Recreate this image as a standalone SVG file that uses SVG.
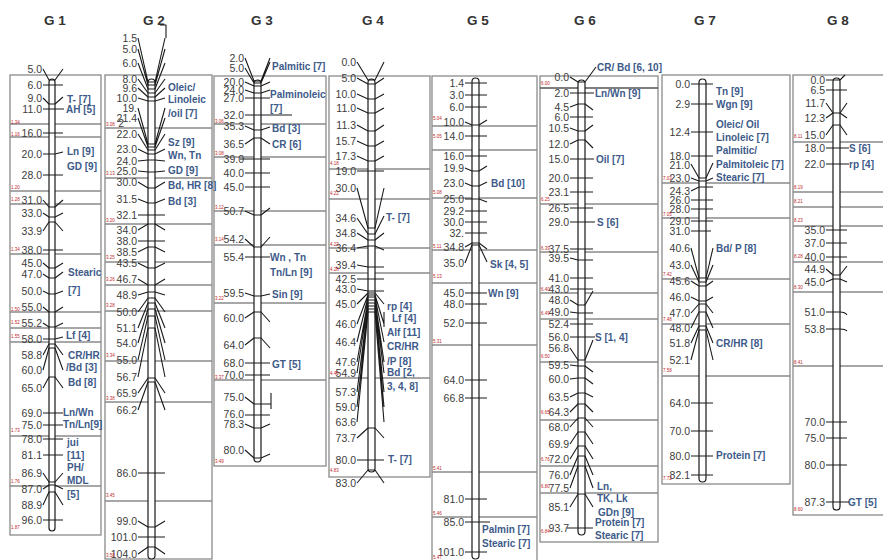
<svg xmlns="http://www.w3.org/2000/svg" width="883" height="560" viewBox="0 0 883 560">
<style>
.box{fill:none;stroke:#8a8a8a;stroke-width:1.3}
.bar{fill:#fff;stroke:#1a1a1a;stroke-width:1.2}
.mk{fill:none;stroke:#1a1a1a;stroke-width:1.1;stroke-linejoin:round}
.n{font-family:"Liberation Sans",Arial,sans-serif;font-size:10.5px;fill:#3c3c3c;text-anchor:end}
.t{font-family:"Liberation Sans",Arial,sans-serif;font-size:10px;font-weight:bold;fill:#3d5a8a}
.r{font-family:"Liberation Sans",Arial,sans-serif;font-size:4.5px;fill:#c0282d}
.h{font-family:"Liberation Sans",Arial,sans-serif;font-size:13.5px;font-weight:bold;fill:#333;text-anchor:middle}
</style>
<rect width="883" height="560" fill="#fff"/>
<g id="titles">
<text class="h" x="55" y="25">G 1</text>
<text class="h" x="154" y="25">G 2</text>
<text class="h" x="262" y="25">G 3</text>
<text class="h" x="373" y="25">G 4</text>
<text class="h" x="478" y="25">G 5</text>
<text class="h" x="585" y="25">G 6</text>
<text class="h" x="705" y="25">G 7</text>
<text class="h" x="838" y="25">G 8</text>
</g>

<g id="G1">
<rect class="box" x="10" y="75" width="91" height="460"/>
<path class="box" d="M10,124H101M10,137H101M10,191H101M10,204H101M10,254H101M10,312H101M10,328H101M10,342H101M10,436H101M10,486H101"/>
<rect class="bar" x="49" y="79" width="6" height="452" rx="3"/>
<g transform="translate(0,3.7)">
<text class="n" x="42" y="69">5.0</text><text class="n" x="42" y="85">6.0</text><text class="n" x="42" y="98">9.0</text><text class="n" x="42" y="109">11.0</text><text class="n" x="42" y="133">16.0</text><text class="n" x="42" y="154">20.0</text><text class="n" x="42" y="175">28.0</text><text class="n" x="42" y="200">31.0</text><text class="n" x="42" y="213">33.0</text><text class="n" x="42" y="231">33.9</text><text class="n" x="42" y="250">38.0</text><text class="n" x="42" y="263">45.0</text><text class="n" x="42" y="274">47.0</text><text class="n" x="42" y="291">50.0</text><text class="n" x="42" y="307">55.0</text><text class="n" x="42" y="323">55.2</text><text class="n" x="42" y="339">58.0</text><text class="n" x="42" y="355">58.8</text><text class="n" x="42" y="370">60.0</text><text class="n" x="42" y="388">65.0</text><text class="n" x="42" y="413">69.0</text><text class="n" x="42" y="425">75.0</text><text class="n" x="42" y="439">78.0</text><text class="n" x="42" y="455">81.1</text><text class="n" x="42" y="473">86.9</text><text class="n" x="42" y="489">87.0</text><text class="n" x="42" y="505">88.9</text><text class="n" x="42" y="520">96.0</text>
<text class="t" x="67" y="99">T- [7]</text><text class="t" x="66" y="109">AH [5]</text><text class="t" x="67" y="151">Ln [9]</text><text class="t" x="67" y="166">GD [9]</text><text class="t" x="68" y="272">Stearic</text><text class="t" x="68" y="290">[7]</text><text class="t" x="66" y="335">Lf [4]</text><text class="t" x="68" y="355">CR/HR</text><text class="t" x="66" y="367">/Bd [3]</text><text class="t" x="68" y="382">Bd [8]</text><text class="t" x="63" y="412">Ln/Wn</text><text class="t" x="63" y="424">Tn/Ln[9]</text><text class="t" x="67" y="442">jui</text><text class="t" x="67" y="455">[11]</text><text class="t" x="67" y="467">PH/</text><text class="t" x="67" y="480">MDL</text><text class="t" x="67" y="494">[5]</text>
</g>
<g class="r"><text x="11" y="124">1.34</text><text x="11" y="136">1.16</text><text x="11" y="189">1.20</text><text x="11" y="201">1.28</text><text x="11" y="251">1.34</text><text x="11" y="311">1.50</text><text x="11" y="324">1.52</text><text x="11" y="338">1.55</text><text x="11" y="432">1.73</text><text x="11" y="483">1.76</text><text x="11" y="529">1.87</text></g>
</g>

<g id="G2">
<rect class="box" x="105" y="75" width="107" height="484"/>
<path class="box" d="M105,128H212M105,178H212M105,224H212M105,262H212M105,285H212M105,311H212M105,361H212M105,402H212M105,501H212"/>
<rect class="bar" x="148" y="79" width="7" height="480" rx="3.5"/>
<g transform="translate(0,3.7)">
<text class="n" x="137" y="38">1.5</text><text class="n" x="137" y="49">5.0</text><text class="n" x="137" y="63">6.0</text><text class="n" x="137" y="79">8.0</text><text class="n" x="137" y="88">9.6</text><text class="n" x="137" y="98">10.0</text><text class="n" x="137" y="108">19.</text><text class="n" x="137" y="118">21.4</text><text class="n" x="124" y="123">2</text><text class="n" x="137" y="134">22.0</text><text class="n" x="137" y="149">23.0</text><text class="n" x="137" y="161">24.0</text><text class="n" x="137" y="171">25.0</text><text class="n" x="137" y="182">30.0</text><text class="n" x="137" y="199">31.5</text><text class="n" x="137" y="215">32.1</text><text class="n" x="137" y="230">34.0</text><text class="n" x="137" y="241">38.0</text><text class="n" x="137" y="252">38.5</text><text class="n" x="137" y="263">43.5</text><text class="n" x="137" y="279">46.7</text><text class="n" x="137" y="295">48.9</text><text class="n" x="137" y="312">50.0</text><text class="n" x="137" y="328">51.1</text><text class="n" x="137" y="343">54.0</text><text class="n" x="137" y="360">55.0</text><text class="n" x="137" y="377">56.7</text><text class="n" x="137" y="393">65.9</text><text class="n" x="137" y="410">66.2</text><text class="n" x="137" y="473">86.0</text><text class="n" x="137" y="521">99.0</text><text class="n" x="137" y="537">101.0</text><text class="n" x="137" y="554">104.0</text>
<text class="t" x="168" y="87">Oleic/</text><text class="t" x="168" y="99">Linoleic</text><text class="t" x="168" y="113">/oil [7]</text><text class="t" x="168" y="142">Sz [9]</text><text class="t" x="168" y="155">Wn, Tn</text><text class="t" x="168" y="170">GD [9]</text><text class="t" x="168" y="185">Bd, HR [8]</text><text class="t" x="168" y="201">Bd  [3]</text>
</g>
<g class="r"><text x="106" y="126">3.08</text><text x="106" y="175">3.13</text><text x="106" y="222">3.20</text><text x="106" y="259">3.25</text><text x="106" y="281">3.26</text><text x="106" y="307">3.28</text><text x="106" y="357">3.34</text><text x="106" y="400">3.38</text><text x="106" y="497">3.45</text><text x="106" y="557">3.50</text></g>
</g>

<g id="G3">
<rect class="box" x="214" y="76" width="112" height="390"/>
<path class="box" d="M214,124H326M214,157H326M214,211H326M214,245H326M214,303H326M214,380H326"/>
<rect class="bar" x="254" y="80" width="7" height="382" rx="3.5"/>
<g transform="translate(0,3.7)">
<text class="n" x="244" y="58">2.0</text><text class="n" x="244" y="68">5.0</text><text class="n" x="244" y="82">20.0</text><text class="n" x="244" y="90">24.0</text><text class="n" x="244" y="98">27.0</text><text class="n" x="244" y="115">32.0</text><text class="n" x="244" y="126">35.3</text><text class="n" x="244" y="144">36.5</text><text class="n" x="244" y="159">39.0</text><text class="n" x="244" y="173">40.0</text><text class="n" x="244" y="187">45.0</text><text class="n" x="244" y="211">50.7</text><text class="n" x="244" y="239">54.2</text><text class="n" x="244" y="257">55.4</text><text class="n" x="244" y="293">59.5</text><text class="n" x="244" y="318">60.0</text><text class="n" x="244" y="345">64.0</text><text class="n" x="244" y="363">68.0</text><text class="n" x="244" y="375">70.0</text><text class="n" x="244" y="397">75.0</text><text class="n" x="244" y="414">76.0</text><text class="n" x="244" y="424">78.3</text><text class="n" x="244" y="450">80.0</text>
<text class="t" x="272" y="66">Palmitic [7]</text><text class="t" x="270" y="94">Palminoleic</text><text class="t" x="270" y="108">[7]</text><text class="t" x="272" y="128">Bd  [3]</text><text class="t" x="272" y="144">CR [6]</text><text class="t" x="270" y="257">Wn , Tn</text><text class="t" x="270" y="272">Tn/Ln [9]</text><text class="t" x="272" y="294">Sin [9]</text><text class="t" x="272" y="364">GT [5]</text>
</g>
<g class="r"><text x="215" y="123">3.06</text><text x="215" y="155">3.08</text><text x="215" y="209">3.12</text><text x="215" y="241">3.14</text><text x="215" y="300">3.22</text><text x="215" y="379">3.37</text><text x="215" y="463">3.49</text></g>
</g>

<g id="G4">
<rect class="box" x="329" y="76" width="101" height="401"/>
<path class="box" d="M329,169H430M329,199H430M329,248H430M329,273H430M329,378H430"/>
<rect class="bar" x="368" y="79" width="7" height="393" rx="3.5"/>
<g transform="translate(0,3.7)">
<text class="n" x="356" y="62">0.0</text><text class="n" x="356" y="78">5.0</text><text class="n" x="356" y="94">10.0</text><text class="n" x="356" y="108">11.0</text><text class="n" x="356" y="125">11.3</text><text class="n" x="356" y="141">15.7</text><text class="n" x="356" y="156">17.3</text><text class="n" x="356" y="171">19.0</text><text class="n" x="356" y="188">30.0</text><text class="n" x="356" y="218">34.6</text><text class="n" x="356" y="233">34.8</text><text class="n" x="356" y="248">36.4</text><text class="n" x="356" y="265">39.4</text><text class="n" x="356" y="279">42.5</text><text class="n" x="356" y="289">43.0</text><text class="n" x="356" y="304">45.0</text><text class="n" x="356" y="324">46.0</text><text class="n" x="356" y="342">46.4</text><text class="n" x="356" y="362">47.6</text><text class="n" x="356" y="373">54.9</text><text class="n" x="356" y="392">57.3</text><text class="n" x="356" y="407">59.0</text><text class="n" x="356" y="422">63.6</text><text class="n" x="356" y="438">73.7</text><text class="n" x="356" y="460">80.0</text><text class="n" x="356" y="483">83.0</text>
<text class="t" x="386" y="217">T- [7]</text><text class="t" x="387" y="306">rp [4]</text><text class="t" x="392" y="318">Lf [4]</text><text class="t" x="387" y="332">Alf [11]</text><text class="t" x="387" y="346">CR/HR</text><text class="t" x="387" y="361">/P [8]</text><text class="t" x="387" y="372">Bd [2,</text><text class="t" x="387" y="386">3, 4, 8]</text><text class="t" x="388" y="459">T- [7]</text>
</g>
<g class="r"><text x="330" y="165">4.18</text><text x="330" y="195">4.22</text><text x="330" y="246">4.23</text><text x="330" y="271">4.28</text><text x="330" y="375">4.45</text><text x="330" y="472">4.83</text></g>
</g>

<g id="G5">
<rect class="box" x="432" y="76" width="105" height="486"/>
<path class="box" d="M432,126H537M432,150H537M432,198H537M432,250H537M432,283H537M432,345H537M432,472H537M432,517H537"/>
<rect class="bar" x="472" y="78" width="7" height="481" rx="3.5"/>
<g transform="translate(0,3.7)">
<text class="n" x="464" y="83">1.4</text><text class="n" x="464" y="95">3.0</text><text class="n" x="464" y="107">6.0</text><text class="n" x="464" y="122">10.0</text><text class="n" x="464" y="136">14.0</text><text class="n" x="464" y="156">16.0</text><text class="n" x="464" y="168">19.9</text><text class="n" x="464" y="183">23.0</text><text class="n" x="464" y="199">25.0</text><text class="n" x="464" y="211">29.2</text><text class="n" x="464" y="222">30.0</text><text class="n" x="464" y="233">32.</text><text class="n" x="464" y="247">34.8</text><text class="n" x="464" y="263">35.0</text><text class="n" x="464" y="293">45.0</text><text class="n" x="464" y="304">48.0</text><text class="n" x="464" y="323">52.0</text><text class="n" x="464" y="380">64.0</text><text class="n" x="464" y="398">66.8</text><text class="n" x="464" y="499">81.0</text><text class="n" x="464" y="522">85.0</text><text class="n" x="464" y="552">101.0</text>
<text class="t" x="491" y="183">Bd [10]</text><text class="t" x="490" y="264">Sk [4, 5]</text><text class="t" x="488" y="293">Wn [9]</text><text class="t" x="482" y="529">Palmin [7]</text><text class="t" x="482" y="543">Stearic [7]</text>
</g>
<g class="r"><text x="433" y="120">5.04</text><text x="433" y="138">5.05</text><text x="433" y="194">5.08</text><text x="433" y="248">5.11</text><text x="433" y="278">5.13</text><text x="433" y="343">5.31</text><text x="433" y="470">5.41</text><text x="433" y="515">5.46</text><text x="433" y="559">5.47</text></g>
</g>

<g id="G6">
<rect class="box" x="540" y="76" width="118" height="466"/>
<path class="box" d="M540,204H658M540,252H658M540,293H658M540,319H658M540,362H658M540,420H658M540,466H658M540,493H658"/>
<path d="M540,88H658" fill="none" stroke="#555" stroke-width="1.6"/>
<rect class="bar" x="578" y="80" width="7" height="455" rx="3.5"/>
<g transform="translate(0,3.7)">
<text class="n" x="569" y="77">0.0</text><text class="n" x="569" y="93">2.0</text><text class="n" x="569" y="107">4.5</text><text class="n" x="569" y="117">6.0</text><text class="n" x="569" y="128">10.5</text><text class="n" x="569" y="144">12.0</text><text class="n" x="569" y="159">15.0</text><text class="n" x="569" y="178">20.0</text><text class="n" x="569" y="192">23.1</text><text class="n" x="569" y="208">26.5</text><text class="n" x="569" y="222">29.0</text><text class="n" x="569" y="249">37.5</text><text class="n" x="569" y="258">39.5</text><text class="n" x="569" y="278">41.0</text><text class="n" x="569" y="289">43.0</text><text class="n" x="569" y="300">48.0</text><text class="n" x="569" y="312">49.0</text><text class="n" x="569" y="324">52.4</text><text class="n" x="569" y="337">56.0</text><text class="n" x="569" y="348">56.8</text><text class="n" x="569" y="365">59.5</text><text class="n" x="569" y="379">60.0</text><text class="n" x="569" y="397">63.5</text><text class="n" x="569" y="412">64.3</text><text class="n" x="569" y="427">68.0</text><text class="n" x="569" y="444">69.9</text><text class="n" x="569" y="459">72.0</text><text class="n" x="569" y="475">76.0</text><text class="n" x="569" y="488">77.5</text><text class="n" x="569" y="507">85.1</text><text class="n" x="569" y="528">93.7</text>
<text class="t" x="597" y="67">CR/ Bd [6, 10]</text><text class="t" x="595" y="93">Ln/Wn [9]</text><text class="t" x="596" y="159">Oil [7]</text><text class="t" x="597" y="222">S [6]</text><text class="t" x="595" y="337">S [1, 4]</text><text class="t" x="597" y="486">Ln,</text><text class="t" x="597" y="498">TK, Lk</text><text class="t" x="598" y="512">GDn [9]</text><text class="t" x="595" y="522">Protein [7]</text><text class="t" x="595" y="535">Stearic [7]</text>
</g>
<g class="r"><text x="541" y="85">6.00</text><text x="541" y="201">6.25</text><text x="541" y="250">6.39</text><text x="541" y="291">6.40</text><text x="541" y="315">6.49</text><text x="541" y="358">6.50</text><text x="541" y="414">6.65</text><text x="541" y="461">6.76</text><text x="541" y="488">6.80</text><text x="541" y="533">6.84</text></g>
</g>

<g id="G7">
<rect class="box" x="662" y="75" width="128" height="409"/>
<path class="box" d="M662,183H790M662,218H790M662,279H790M662,324H790M662,376H790"/>
<rect class="bar" x="699" y="79" width="7" height="403" rx="3.5"/>
<g transform="translate(0,3.7)">
<text class="n" x="690" y="84">0.0</text><text class="n" x="690" y="104">2.9</text><text class="n" x="690" y="132">12.4</text><text class="n" x="690" y="156">18.0</text><text class="n" x="690" y="165">21.0</text><text class="n" x="690" y="178">23.0</text><text class="n" x="690" y="191">24.3</text><text class="n" x="690" y="200">26.0</text><text class="n" x="690" y="209">28.0</text><text class="n" x="690" y="221">29.0</text><text class="n" x="690" y="231">31.0</text><text class="n" x="690" y="248">40.6</text><text class="n" x="690" y="265">43.0</text><text class="n" x="690" y="281">45.6</text><text class="n" x="690" y="297">46.0</text><text class="n" x="690" y="313">47.0</text><text class="n" x="690" y="328">48.0</text><text class="n" x="690" y="343">51.8</text><text class="n" x="690" y="360">52.1</text><text class="n" x="690" y="403">64.0</text><text class="n" x="690" y="431">70.0</text><text class="n" x="690" y="456">80.0</text><text class="n" x="690" y="475">82.1</text>
<text class="t" x="716" y="91">Tn [9]</text><text class="t" x="716" y="104">Wgn [9]</text><text class="t" x="716" y="124">Oleic/ Oil</text><text class="t" x="716" y="137">Linoleic [7]</text><text class="t" x="716" y="150">Palmitic/</text><text class="t" x="716" y="164">Palmitoleic [7]</text><text class="t" x="716" y="177">Stearic [7]</text><text class="t" x="716" y="248">Bd/ P [8]</text><text class="t" x="716" y="343">CR/HR [8]</text><text class="t" x="716" y="455">Protein [7]</text>
</g>
<g class="r"><text x="663" y="180">7.03</text><text x="663" y="216">7.05</text><text x="663" y="276">7.42</text><text x="663" y="321">7.48</text><text x="663" y="372">7.58</text><text x="663" y="480">7.72</text></g>
</g>

<g id="G8">
<rect class="box" x="793" y="75" width="97" height="440"/>
<path class="box" d="M793,142H890M793,192H890M793,207H890M793,226H890M793,262H890M793,292H890M793,366H890"/>
<rect class="bar" x="833" y="78" width="7" height="432" rx="3.5"/>
<g transform="translate(0,3.7)">
<text class="n" x="825" y="80">0.0</text><text class="n" x="825" y="90">6.5</text><text class="n" x="825" y="103">11.7</text><text class="n" x="825" y="118">12.3</text><text class="n" x="825" y="135">15.0</text><text class="n" x="825" y="148">18.0</text><text class="n" x="825" y="164">22.0</text><text class="n" x="825" y="230">35.0</text><text class="n" x="825" y="243">37.0</text><text class="n" x="825" y="257">40.0</text><text class="n" x="825" y="269">44.9</text><text class="n" x="825" y="282">45.0</text><text class="n" x="825" y="312">51.0</text><text class="n" x="825" y="329">53.8</text><text class="n" x="825" y="422">70.0</text><text class="n" x="825" y="438">75.0</text><text class="n" x="825" y="465">80.0</text><text class="n" x="825" y="502">87.3</text>
<text class="t" x="849" y="148">S [6]</text><text class="t" x="849" y="164">rp [4]</text><text class="t" x="848" y="502">GT [5]</text>
</g>
<g class="r"><text x="794" y="138">8.11</text><text x="794" y="189">8.19</text><text x="794" y="203">8.21</text><text x="794" y="222">8.23</text><text x="794" y="258">8.28</text><text x="794" y="289">8.30</text><text x="794" y="364">8.41</text><text x="794" y="511">8.60</text></g>
</g>

<g id="connectors" class="mk">
<path id="c1" d="M43,69L49,80H55L63,69M43,85H63M43,98L49,104H55L63,97M43,109H64M43,133H63M43,154H55L63,152M43,175H63M43,200L49,207H55L63,200M43,213L49,217H55L63,213M43,231L49,222H55L63,231M43,250H63M43,263L49,268H55L63,263M43,274L49,278H55L63,272M43,291L49,294H55L63,291M43,307L49,312H55L63,307M43,323L49,327H55L63,323M43,339H55L63,337M43,355L49,344H55L63,355M43,370L49,348H55L63,370M43,388L49,377H55L63,388M43,413H63M43,425H63M43,439H63M43,455H63M43,473L49,482H55L63,473M43,489L49,485H55L63,489M43,505L49,492H55L63,505M43,520H63"/>
<path id="c2" d="M138,38L148,82H155L165,38M138,49L148,85H155L165,49M138,63L148,89H155L165,63M138,79L148,93H155L165,79M138,88L148,97H155L165,88M138,98L148,101H155L165,98M138,108L148,144H155L165,108M138,118L148,147H155L165,118M138,134L148,150H155L165,134M138,149L148,154H155L165,149M138,161L148,160H155L165,161M138,171L148,172H155L165,171M138,182L148,188H155L165,182M138,199L148,203H155L165,199M138,215H165M138,230L148,224H155L165,230M138,241H165M138,252L148,247H155L165,252M138,263L148,268H155L165,263M138,279L148,285H155L165,279M138,295L148,292H155L165,295M138,312L148,298H155L165,312M138,328L148,303H155L165,328M138,343L148,309H155L165,343M138,360L148,316H155L165,360M138,377L148,328H155L165,377M138,393L148,378H155L165,393M138,410L148,382H155L165,410M138,473H165M138,521L148,527H155L165,521M138,537H165M138,554L148,547H155L165,554M160,25H166V38"/>
<path id="c3" d="M245,58L254,81H261L270,58M245,68L254,83H261L270,62M245,82L254,86H261L270,82M245,90L254,93H261L270,90M245,98H270M245,115H292M245,126L254,130H261L270,127M245,144L254,138H261L270,144M240,159H270M245,173H270M245,187H270M245,211L254,215H261L270,208M245,239L254,247H261L270,237M245,257H270M245,293L254,296H261L270,294M245,318L254,312H261L270,322M245,345L254,338H261L270,348M245,363H270M245,375H270M245,397L254,404H271M271,393V409M245,415H270M245,424L254,428H261L270,424M245,450L254,458H261L270,454"/>
<path id="c4" d="M357,62L368,80H375L384,62M357,78L368,84H375L384,78M357,94L368,99H375L384,94M357,108L368,113H375L384,108M357,125L368,131H375L384,125M357,141L368,146H375L384,141M357,156L368,161H375L384,156M357,171H384M357,188L368,228H375L384,188M357,218L368,234H375L384,216M357,233L368,240H375L384,233M357,248L368,246H375L384,250M357,265L368,267H375L384,267M357,279H384M357,289L368,291H375L384,291M357,304L368,293H375L384,304M357,324L368,295H375L384,324M384,312V327M357,342L368,297H375L384,342M357,362L368,300H375L384,362M357,373L368,303H375L384,373M357,392L368,306H375L384,392M357,407L368,309H375L384,407M357,422L368,312H375L384,422M357,438L368,428H375L384,438M357,460H384M357,483L368,470H375L384,483"/>
<path id="c5" d="M465,83H487M465,95H487M465,107H487M465,122L472,125H479L487,120M465,136H487M465,156H487M465,168L472,171H479L487,166M465,183L472,186H479L487,182M465,199H479L487,202M465,211H487M465,222H487M465,233H487M465,247L472,243H479L487,249M465,263L472,245H479L487,262M465,293H487M465,304H487M465,323H487M465,380H487M465,398H487M465,499H487M465,522H490M465,552H487"/>
<path id="c6" d="M570,77L578,82H585L596,67M570,93H594M570,107L578,104H585L593,110M570,117H593M570,128L578,131H585L593,125M570,144L578,140H585L593,148M570,159H594M570,178H593M570,192H593M570,208H593M570,222H595M570,249H593M570,258L578,260H593M570,278H593M570,289H593M570,300L578,305H585L593,291M570,312L578,313H593M570,324H593M570,337H595M570,348L578,360H585L593,340M570,365L578,366H585L593,372M570,379L578,378H585L593,384M570,397L578,393H585L593,397M570,412L578,404H585L593,412M570,427L578,418H585L593,427M570,444L578,432H585L593,444M570,459L578,446H585L593,459M570,475L578,456H585L593,475M570,488L578,466H585L593,488M570,507L578,494H585L593,507M567,528H593"/>
<path id="c7" d="M691,84H713M691,104H713M691,132H713M691,156H713M691,164L699,178H706L713,163M691,178L699,181H706L713,178M691,191L699,187H713M691,200H713M691,209H713M691,221H713M691,231H711M691,248L699,278H706L713,248M691,265L699,282H706L713,265M691,281L699,286H706L713,281M691,297L699,301H706L713,297M691,313L699,304H706L713,313M691,328L699,312H706L713,328M691,343L699,326H706L713,343M691,360L699,330H706L713,360M691,403H713M691,431H713M691,456H713M691,475H713"/>
<path id="c8" d="M826,80H840L845,75M826,90H847M826,103L833,113H840L847,103M826,118L833,113H840L847,118M826,135L833,125H840L847,135M826,148H849M826,164H849M826,230H847M826,243H847M826,257H847M826,269L833,275H840L847,266M826,282L833,279H840L847,282M826,312H840Q845,312 847,315M826,329H840Q845,329 847,331M826,422H847M826,438H847M826,465H847M826,502H849"/>
</g>
</svg>
